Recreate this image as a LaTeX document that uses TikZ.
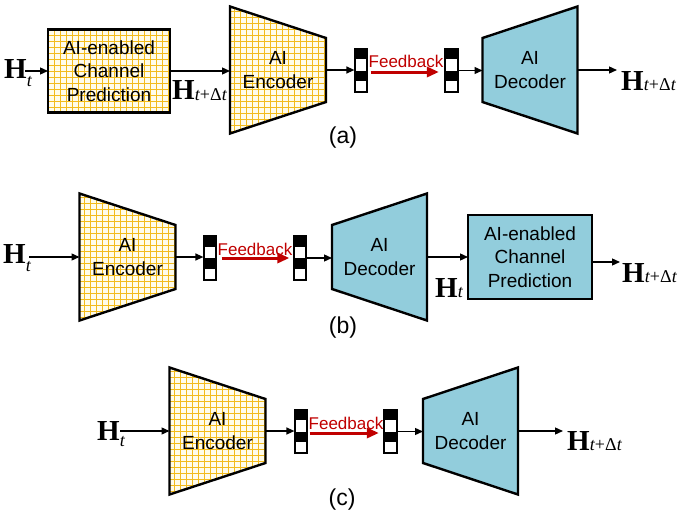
\documentclass[tikz,border=0pt]{standalone}
\usepackage{fontspec}
\setmainfont{Liberation Sans}
\newfontfamily\tms{Liberation Serif}
\usetikzlibrary{arrows.meta,calc}
\definecolor{gridbg}{HTML}{FFFCEA}
\definecolor{gridln}{HTML}{F3BB1C}
\definecolor{aqua}{HTML}{92CDDC}
\definecolor{fbred}{HTML}{C00000}
\tikzset{
 lbl/.style={font=\fontsize{19}{23.5}\selectfont, align=center, inner sep=0pt},
 bd/.style={draw=black, line width=2.4pt, line join=miter},
 gridded/.style={fill=gridbg, path picture={\draw[gridln, line width=0.9pt, step=6pt, shift={(0.5pt,0.5pt)}] ([shift={(-6pt,-6pt)}]path picture bounding box.south west) grid ([shift={(6pt,6pt)}]path picture bounding box.north east);}},
 bluef/.style={fill=aqua},
 arr/.style={line width=1.3pt, -{Triangle[length=8pt,width=7pt]}},
 fbarr/.style={draw=fbred, line width=3pt, -{Triangle[length=12pt,width=10pt]}},
 fblbl/.style={text=fbred, font=\fontsize{17}{17}\selectfont, inner sep=0pt},
 capt/.style={font=\fontsize{23}{23}\selectfont, inner sep=0pt},
 hnode/.style={inner sep=0pt, anchor=base west},
 bb/.style={inner sep=0pt, outer sep=0pt, draw=none},
 bitcol/.style={draw=black, line width=1.2pt, inner sep=0pt, minimum width=12pt, minimum height=43pt},
}
\newcommand\encbox[4]{%
 \node[bb, minimum width=96pt, minimum height=127pt] (#1) at (#2,#3) {};
 \path[bd,#4] (#1.north west) -- ($(#1.east)+(0,32pt)$) -- ($(#1.east)+(0,-32pt)$) -- (#1.south west) -- cycle;
 \node[lbl] (#1-t) at (#1) {AI\\Encoder};
}
\newcommand\decbox[4]{%
 \node[bb, minimum width=95pt, minimum height=127pt] (#1) at (#2,#3) {};
 \path[bd,#4] ($(#1.west)+(0,32pt)$) -- (#1.north east) -- (#1.south east) -- ($(#1.west)+(0,-32pt)$) -- cycle;
 \node[lbl] (#1-t) at (#1) {AI\\Decoder};
}
\newcommand\predbox[6]{% name, x, y, w, h, fill style
 \node[bb, minimum width=#4, minimum height=#5] (#1) at (#2,#3) {};
 \path[bd,#6] (#1.north west) rectangle (#1.south east);
 \node[lbl] (#1-t) at (#1) {AI-enabled\\Channel\\Prediction};
}
\newcommand\bitsnode[3]{%
 \node[bitcol] (#1) at (#2,#3) {};
 \fill (#1.north west) rectangle ($(#1.north east)+(0,-10.75pt)$);
 \fill (#1.west) rectangle ($(#1.east)+(0,-10.75pt)$);
 \draw[line width=1.2pt] (#1.north west) rectangle (#1.south east);
}
\newcommand\Hsym[2]{{\tms\bfseries\fontsize{29}{29}\selectfont H}\raisebox{#2}{\tms\itshape\fontsize{18}{18}\selectfont #1}}
\newcommand\tdt{t{\upshape +\kern0.3pt Δ}t}
\begin{document}
\begin{tikzpicture}[x=1pt,y=-1pt]
\useasboundingbox (0,0) rectangle (689,517);
% ---------- (a)
\node[hnode] (ha) at (4,78) {\Hsym{t}{-8pt}};
\coordinate (ha-e) at (25,71);
\predbox{pa}{109}{71}{122pt}{83pt}{gridded}
\draw[arr] (ha-e) -- (pa.west);
\encbox{enca}{278}{70}{gridded}
\draw[arr] (pa.east) -- (pa.east -| enca.west);
\node[hnode] (hb) at (172,99) {\Hsym{\tdt}{-1pt}};
\bitsnode{ba1}{361}{70.5}
\draw[arr] (enca.east) -- (enca.east -| ba1.west);
\bitsnode{ba2}{451.5}{70.5}
\draw[fbarr] ([xshift=3pt,yshift=-1.5pt]ba1.east) -- ([xshift=-6pt,yshift=-1.5pt]ba2.west);
\node[fblbl] (fba) at (406,61) {Feedback};
\decbox{deca}{530}{70}{bluef}
\draw[arr] (ba2.east) -- (ba2.east -| deca.west);
\coordinate (ra) at (617,70);
\draw[arr] (deca.east) -- (ra);
\node[hnode] (hc) at (621,90) {\Hsym{\tdt}{0pt}};
\node[capt] (capa) at (343,138) {(a)};
% ---------- (b)
\node[hnode] (hd) at (3,263) {\Hsym{t}{-8pt}};
\coordinate (hd-e) at (29,257);
\encbox{encb}{127.5}{257}{gridded}
\draw[arr] (hd-e) -- (hd-e -| encb.west);
\bitsnode{bb1}{210}{258}
\draw[arr] (encb.east) -- (encb.east -| bb1.west);
\bitsnode{bb2}{300}{258}
\draw[fbarr] ([xshift=5pt]bb1.east) -- ([xshift=-4pt]bb2.west);
\node[fblbl] (fbb) at (255,249) {Feedback};
\decbox{decb}{379.5}{257}{bluef}
\draw[arr] (bb2.east) -- (bb2.east -| decb.west);
\predbox{pb}{530}{257}{124pt}{84pt}{bluef}
\draw[arr] (decb.east) -- (pb.west);
\node[hnode] (he) at (435,297) {\Hsym{t}{0pt}};
\coordinate (rb) at (620,262);
\draw[arr] ([yshift=-5pt]pb.east) -- (rb);
\node[hnode] (hf) at (622,282) {\Hsym{\tdt}{0pt}};
\node[capt] (capb) at (343,328) {(b)};
% ---------- (c)
\node[hnode] (hg) at (97,440) {\Hsym{t}{-6pt}};
\coordinate (hg-e) at (120,431);
\encbox{encc}{217.5}{431}{gridded}
\draw[arr] (hg-e) -- (hg-e -| encc.west);
\bitsnode{bc1}{301}{431.5}
\draw[arr] (encc.east) -- (encc.east -| bc1.west);
\bitsnode{bc2}{390.5}{431.5}
\draw[fbarr] ([xshift=2pt,yshift=-1.5pt]bc1.east) -- ([xshift=-5pt,yshift=-1.5pt]bc2.west);
\node[fblbl] (fbc) at (346,423) {Feedback};
\decbox{decc}{470.5}{431}{bluef}
\draw[arr] (bc2.east) -- (bc2.east -| decc.west);
\coordinate (rc) at (563,431);
\draw[arr] (decc.east) -- (rc);
\node[hnode] (hh) at (567,450) {\Hsym{\tdt}{0pt}};
\node[capt] (capc) at (342,500) {(c)};
\end{tikzpicture}
\end{document}
